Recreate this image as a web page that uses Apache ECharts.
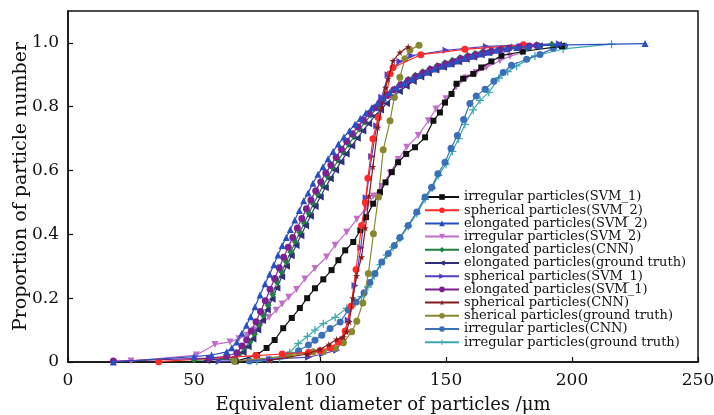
<!DOCTYPE html>
<html><head><meta charset="utf-8">
<script src="https://cdn.jsdelivr.net/npm/echarts@6/dist/echarts.min.js"></script>
<style>html,body{margin:0;padding:0;background:#fff}#c{width:714px;height:415px}</style>
</head><body><div id="c"></div>
<script>
const seriesNames = [
  'irregular particles(SVM_1)','spherical particles(SVM_2)','elongated particles(SVM_2)','irregular particles(SVM_2)',
  'elongated particles(CNN)','elongated particles(ground truth)','spherical particles(SVM_1)','elongated particles(SVM_1)',
  'spherical particles(CNN)','sherical particles(ground truth)','irregular particles(CNN)','irregular particles(ground truth)'
];
const xTicks = [0,50,100,150,200,250];
const yTicks = [0,0.2,0.4,0.6,0.8,1.0];

const irregularSVM1 = [[66.5,0.002],[74.9,0.022],[78.8,0.044],[82,0.069],[85.4,0.106],[88.8,0.138],[92,0.169],[94.9,0.2],[98,0.231],[101.3,0.259],[104.6,0.288],[107.3,0.319],[110,0.35],[113.2,0.376],[116,0.413],[118.3,0.454],[121.1,0.496],[123.8,0.532],[126,0.563],[128.5,0.595],[131,0.626],[134.2,0.652],[137.7,0.673],[141.7,0.704],[145,0.756],[147.6,0.782],[149.6,0.813],[152.2,0.84],[154.2,0.872],[156.8,0.888],[160.8,0.903],[164,0.923],[168,0.942],[172,0.96],[180.5,0.973],[196,0.99]];
const sphericalSVM2 = [[36,0.001],[74.5,0.02],[85,0.025],[95.4,0.03],[100,0.035],[104,0.045],[107.3,0.063],[110,0.097],[112.3,0.175],[114.3,0.29],[116.5,0.428],[118,0.5],[119,0.576],[121,0.7],[123.1,0.766],[126.4,0.84],[127.8,0.903],[129,0.923],[140,0.963],[157.5,0.98],[180.7,0.994]];
const elongatedSVM2 = [[18,0],[50,0.017],[57,0.022],[63,0.032],[65,0.045],[67,0.063],[69,0.09],[70.8,0.115],[72.5,0.142],[74.2,0.173],[76.2,0.21],[78.2,0.245],[80,0.275],[81.7,0.305],[83.3,0.335],[85,0.365],[86.6,0.39],[88.2,0.415],[90,0.445],[91.8,0.475],[93.5,0.505],[95.3,0.53],[97.2,0.56],[99.2,0.588],[101.2,0.612],[103.2,0.637],[105.2,0.66],[107.3,0.683],[109.5,0.705],[111.7,0.725],[113.9,0.745],[116,0.763],[118.2,0.78],[120.5,0.797],[122.8,0.812],[125.2,0.828],[127.7,0.845],[130.5,0.86],[133.5,0.874],[136.5,0.887],[139.5,0.898],[142.5,0.908],[145.5,0.918],[148.5,0.927],[151.5,0.935],[154.5,0.943],[157.5,0.951],[160.5,0.958],[163.5,0.965],[166.5,0.971],[170,0.977],[174,0.982],[178,0.986],[182.5,0.989],[187,0.992],[229,0.998]];
const irregularSVM2 = [[25,0.003],[51,0.022],[58.3,0.055],[64.3,0.063],[67.8,0.073],[71,0.084],[74,0.1],[76.8,0.12],[79.8,0.14],[82.6,0.162],[85,0.182],[87.6,0.203],[90.7,0.227],[94,0.26],[98,0.293],[102.6,0.329],[106,0.366],[110.6,0.407],[114.6,0.447],[118.2,0.482],[121.2,0.52],[124.5,0.55],[127.8,0.592],[131,0.635],[134.4,0.673],[139,0.71],[143,0.756],[146,0.793],[150,0.825],[154,0.862],[158,0.89],[162,0.907],[166,0.923],[171.4,0.944],[175.4,0.958],[180,0.97]];
const elongatedCNN = [[50,0.006],[65.6,0.008],[68,0.025],[70.2,0.045],[72.2,0.063],[74,0.088],[75.8,0.115],[77.6,0.145],[79.4,0.178],[81.2,0.212],[83,0.25],[84.8,0.282],[86.6,0.314],[88.4,0.345],[90.2,0.376],[92,0.406],[93.8,0.436],[95.6,0.466],[97.4,0.495],[99.3,0.524],[101.2,0.552],[103.2,0.58],[105.2,0.607],[107.2,0.632],[109.3,0.657],[111.4,0.682],[113.5,0.706],[115.7,0.73],[117.9,0.752],[120.2,0.774],[122.5,0.796],[124.8,0.817],[127.2,0.838],[129.7,0.856],[132.3,0.871],[135,0.886],[137.8,0.899],[140.7,0.91],[143.6,0.92],[146.5,0.929],[149.5,0.938],[152.5,0.946],[155.5,0.954],[158.5,0.961],[161.5,0.967],[164.5,0.973],[168,0.978],[172,0.983],[176,0.987],[181,0.991],[186,0.994],[192,0.996]];
const elongatedGT = [[55,0.005],[66,0.015],[69.5,0.03],[71.5,0.048],[73.4,0.072],[75.3,0.1],[77.2,0.13],[79.1,0.163],[81,0.197],[82.9,0.232],[84.8,0.267],[86.7,0.3],[88.6,0.333],[90.5,0.365],[92.4,0.396],[94.3,0.427],[96.2,0.457],[98.1,0.487],[100.1,0.517],[102.1,0.546],[104.1,0.574],[106.2,0.601],[108.3,0.627],[110.4,0.652],[112.6,0.677],[114.8,0.701],[117,0.724],[119.3,0.747],[121.6,0.77],[124,0.79],[126.4,0.81],[128.9,0.83],[131.5,0.848],[134.2,0.864],[137,0.879],[140,0.893],[143,0.905],[146,0.915],[149,0.924],[152,0.933],[155,0.941],[158,0.949],[161,0.956],[164,0.963],[167,0.969],[170.5,0.975],[174,0.98],[178,0.984],[182,0.988],[187,0.991],[194.6,0.995]];
const sphericalSVM1 = [[60,0.002],[80,0.008],[95.4,0.015],[101,0.025],[106.6,0.037],[109,0.07],[111.2,0.131],[113.9,0.24],[116.2,0.358],[118.3,0.515],[120.5,0.644],[122.5,0.74],[124.5,0.83],[127,0.9],[131.7,0.942],[136.4,0.96],[150,0.977],[166,0.989],[195,0.997]];
const elongatedSVM1 = [[18,0.003],[56,0.012],[63,0.018],[67,0.029],[69,0.05],[70.9,0.069],[72.7,0.097],[74.6,0.126],[76.4,0.158],[78.3,0.192],[80.2,0.228],[82,0.262],[83.8,0.295],[85.6,0.328],[87.4,0.36],[89.2,0.39],[91,0.42],[92.8,0.45],[94.6,0.48],[96.4,0.508],[98.3,0.537],[100.3,0.565],[102.3,0.592],[104.3,0.617],[106.4,0.642],[108.5,0.667],[110.6,0.692],[112.8,0.715],[115,0.737],[117.2,0.758],[119.5,0.778],[121.8,0.797],[124.2,0.815],[126.7,0.835],[129.3,0.853],[132,0.868],[135,0.882],[138,0.895],[141,0.906],[144,0.917],[147,0.926],[150,0.934],[153,0.942],[156,0.95],[159,0.957],[162,0.963],[165,0.969],[168,0.974],[171.5,0.979],[175,0.984],[179,0.988],[183,0.99],[186,0.992]];
const sphericalCNN = [[80,0.005],[95,0.025],[100,0.04],[103.5,0.055],[106.6,0.071],[109.3,0.078],[110.5,0.095],[111.6,0.126],[113,0.2],[114.5,0.27],[116.5,0.329],[118,0.42],[119.5,0.52],[121,0.612],[123,0.735],[124.5,0.8],[126,0.86],[127,0.887],[129,0.944],[131.7,0.97],[135,0.988]];
const sphericalGT = [[66,0.002],[88,0.02],[97.3,0.032],[101.3,0.032],[106,0.043],[109.3,0.06],[112.6,0.095],[114.6,0.128],[117,0.185],[119.2,0.277],[121.2,0.402],[123.2,0.517],[125.1,0.665],[127.8,0.756],[129.5,0.83],[131.7,0.892],[133.7,0.95],[135.7,0.978],[139.3,0.993]];
const irregularCNN = [[72,0.003],[80,0.008],[87.4,0.022],[91.5,0.035],[95.4,0.053],[98,0.068],[100.7,0.084],[104,0.105],[108,0.125],[111.2,0.163],[114.3,0.188],[117.5,0.217],[119.8,0.249],[121.8,0.277],[124.5,0.313],[127.1,0.34],[129.5,0.365],[131.7,0.39],[135,0.428],[138.4,0.47],[141.7,0.517],[144.3,0.548],[146.8,0.59],[149.6,0.626],[152,0.67],[154.5,0.71],[157,0.76],[159.5,0.81],[162,0.834],[165.5,0.855],[169,0.88],[172.7,0.907],[176,0.93],[182,0.949],[187.3,0.964],[192.6,0.983],[197,0.99]];
const irregularGT = [[75,0.002],[84,0.01],[88,0.03],[91.4,0.058],[95,0.08],[98,0.1],[101.3,0.12],[106,0.14],[110.6,0.168],[113.9,0.184],[116.5,0.205],[119,0.235],[121.5,0.27],[124,0.305],[126.5,0.335],[129,0.36],[131.7,0.387],[135,0.425],[138.4,0.465],[141.7,0.51],[144.5,0.545],[147,0.585],[150,0.62],[152.5,0.66],[155,0.7],[157.5,0.745],[160.8,0.79],[163.5,0.82],[167,0.845],[171,0.89],[174.5,0.91],[178,0.928],[185.3,0.959],[196.5,0.981],[215.7,0.996]];

const seriesData = [irregularSVM1,sphericalSVM2,elongatedSVM2,irregularSVM2,elongatedCNN,elongatedGT,sphericalSVM1,elongatedSVM1,sphericalCNN,sphericalGT,irregularCNN,irregularGT];

const STAR='path://M50,0 L61,35 L98,35 L68,57 L79,91 L50,70 L21,91 L32,57 L2,35 L39,35 Z';
const PLUS='path://M42,0 L58,0 L58,42 L100,42 L100,58 L58,58 L58,100 L42,100 L42,58 L0,58 L0,42 L42,42 Z';
const styles = [
  {c:'#111111', s:'rect', z:5},
  {c:'#ff2a2a', s:'circle', z:6},
  {c:'#2850c0', s:'triangle', z:7},
  {c:'#c06cc8', s:'triangle', r:180, z:4},
  {c:'#1f8040', s:'diamond', z:5},
  {c:'#30307a', s:'triangle', r:90, z:5},
  {c:'#5040c8', s:'triangle', r:-90, z:5},
  {c:'#7e2090', s:'circle', z:6},
  {c:'#801c1c', s:STAR, z:7},
  {c:'#888830', s:'circle', z:5},
  {c:'#3a70b8', s:'circle', z:4},
  {c:'#3ca8ae', s:PLUS, z:3}
];

const FONT='DejaVu Serif';
const chart = echarts.init(document.getElementById('c'));
chart.setOption({
  animation:false,
  backgroundColor:'#fff',
  grid:{left:68,right:16,top:11,bottom:53,show:true,borderColor:'#111',borderWidth:1.5,backgroundColor:'transparent',outerBoundsMode:'none',containLabel:false},
  legend:{
    orient:'vertical', left:424, top:190.5, itemGap:0.2, itemWidth:34, itemHeight:7,
    data:seriesNames,
    textStyle:{fontFamily:FONT,fontSize:13,color:'#111'},
    padding:0
  },
  xAxis:{
    type:'value', min:0, max:250, interval:50,
    name:'Equivalent diameter of particles /μm', nameLocation:'middle', nameGap:34, nameMoveOverlap:false,
    nameTextStyle:{fontFamily:FONT,fontSize:18,color:'#111'},
    axisLine:{lineStyle:{color:'#111',width:1.5}},
    axisTick:{inside:true,length:5,lineStyle:{color:'#111',width:1.2}},
    axisLabel:{fontFamily:FONT,fontSize:17,color:'#111',margin:10,formatter:v=>xTicks.includes(v)?String(v):''},
    splitLine:{show:false}
  },
  yAxis:{
    type:'value', min:0, max:1.1, interval:0.2,
    name:'Proportion of particle number', nameLocation:'middle', nameGap:37.5, nameMoveOverlap:false,
    nameTextStyle:{fontFamily:FONT,fontSize:19,color:'#111'},
    axisLine:{lineStyle:{color:'#111',width:1.5}},
    axisTick:{inside:true,length:5,lineStyle:{color:'#111',width:1.2}},
    axisLabel:{fontFamily:FONT,fontSize:17,color:'#111',margin:9,showMaxLabel:false,
      formatter:v=>{const t=yTicks.find(x=>Math.abs(x-v)<1e-6);return t===undefined?'':(t===0?'0':t.toFixed(1));}},
    splitLine:{show:false}
  },
  series:seriesNames.map((n,i)=>({
    name:n, type:'line', data:seriesData[i], z:styles[i].z,
    symbol:styles[i].s, symbolSize:styles[i].s===PLUS?8:(styles[i].s==='rect'?6:7), symbolRotate:styles[i].r||0,
    showAllSymbol:true, clip:true,
    lineStyle:{color:styles[i].c,width:1.2},
    itemStyle:{color:styles[i].c,borderWidth:0}
  }))
});
</script></body></html>
